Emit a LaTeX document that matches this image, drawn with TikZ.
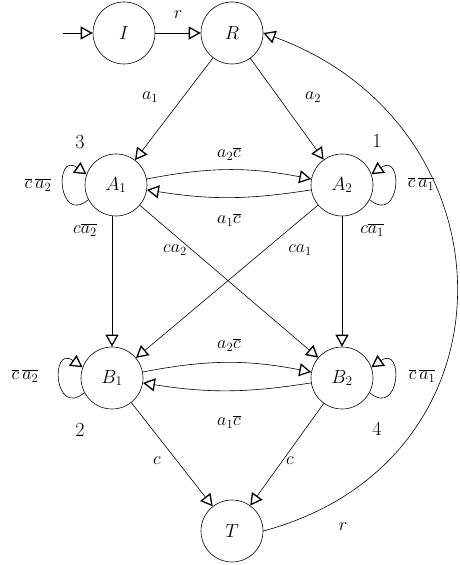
\RequirePackage{fix-cm}
\documentclass[tikz,border=0pt]{standalone}
\usetikzlibrary{arrows.meta}
\begin{document}
\begin{tikzpicture}[x=1pt,y=1pt,
  state/.style={circle,draw,line width=0.6pt,minimum size=62pt,inner sep=0pt,font=\fontsize{19}{21}\selectfont},
  lab/.style={font=\fontsize{18}{20}\selectfont,inner sep=1pt},
  num/.style={font=\fontsize{20}{22}\selectfont,inner sep=0pt},
  arr/.style={line width=0.6pt,-{Triangle[open,length=12pt,width=13pt,line width=1.3pt]}}]
\useasboundingbox (0,0) rectangle (459,565);
% states
\node[state] (I) at (124,532) {$I$};
\node[state] (R) at (232,532) {$R$};
\node[state] (A1) at (116,380) {$A_1$};
\node[state] (A2) at (342,380) {$A_2$};
\node[state] (B1) at (112,187) {$B_1$};
\node[state] (B2) at (342,187) {$B_2$};
\node[state] (T) at (232,34) {$T$};
\coordinate (init) at (63,532);
% edges
\draw[arr] (init) -- (I);
\draw[arr] (I) -- (R);
\draw[arr] (R) -- (A1);
\draw[arr] (R) -- (A2);
\draw[arr] (A1) to[bend left=11] (A2);
\draw[arr] (A2) to[bend left=9] (A1);
\draw[arr] (A1.south -| B1.north) -- (B1.north);
\draw[arr] (A2) -- (B2);
\draw[arr] (A1) -- (B2);
\draw[arr] (A2) -- (B1);
\draw[arr] (B1) to[bend left=11] (B2);
\draw[arr] (B2) to[bend left=9] (B1);
\draw[arr] (B1) -- (T);
\draw[arr] (B2) -- (T);
\draw[arr] (T.east) .. controls +(15:270) and +(-20:270) .. (R.east);
% loops
\draw[arr] (A1.208) to[out=220,in=145,distance=40pt] (A1.160);
\draw[arr] (B1.208) to[out=220,in=145,distance=40pt] (B1.160);
\draw[arr] (A2.-28) to[out=-40,in=35,distance=40pt] (A2.20);
\draw[arr] (B2.-28) to[out=-40,in=35,distance=40pt] (B2.20);
% labels
\node[lab] (lr1) at (178,550) {$r$};
\node[lab] (la1) at (150,468) {$a_1$};
\node[lab] (la2) at (313,468) {$a_2$};
\node[lab] (lA12) at (229,411) {$a_2\overline{c}$};
\node[lab] (lA21) at (229,345) {$a_1\overline{c}$};
\node[lab] (lA1B1) at (85,335) {$c\overline{a_2}$};
\node[lab] (lA1B2) at (175,315) {$ca_2$};
\node[lab] (lA2B1) at (300,315) {$ca_1$};
\node[lab] (lA2B2) at (372,335) {$c\overline{a_1}$};
\node[lab] (lB12) at (229,220) {$a_2\overline{c}$};
\node[lab] (lB21) at (229,143) {$a_1\overline{c}$};
\node[lab] (lc1) at (157,104) {$c$};
\node[lab] (lc2) at (290,104) {$c$};
\node[lab] (lr2) at (343,38) {$r$};
\node[lab] (lL1) at (38,380) {$\overline{c}\,\overline{a_2}$};
\node[lab] (lL2) at (421,381) {$\overline{c}\,\overline{a_1}$};
\node[lab] (lL3) at (25,189) {$\overline{c}\,\overline{a_2}$};
\node[lab] (lL4) at (422,189) {$\overline{c}\,\overline{a_1}$};
\node[num] (n3) at (80,423) {3};
\node[num] (n1) at (377,424) {1};
\node[num] (n2) at (80,135) {2};
\node[num] (n4) at (377,136) {4};
\end{tikzpicture}
\end{document}
